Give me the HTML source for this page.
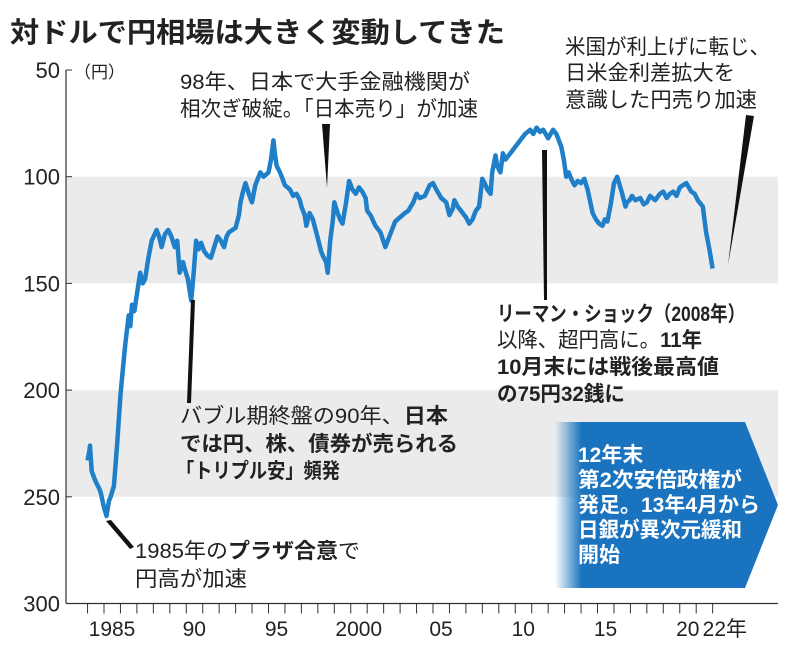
<!DOCTYPE html>
<html><head><meta charset="utf-8"><style>
html,body{margin:0;padding:0;background:#fff;}
svg{display:block;font-family:"Liberation Sans","Noto Sans CJK JP",sans-serif;}
.a{font-size:21px;fill:#222;}
.b{font-weight:bold;}
</style></head><body>
<svg id="chart" width="800" height="660" viewBox="0 0 800 660">
<defs><linearGradient id="g" x1="0" x2="1" y1="0" y2="0"><stop offset="0" stop-color="#1a73be" stop-opacity="0"/><stop offset="0.12" stop-color="#1a73be"/><stop offset="1" stop-color="#1a73be"/></linearGradient></defs>
<text x="10" y="42" font-size="28" font-weight="bold" fill="#222" textLength="495" lengthAdjust="spacingAndGlyphs">対ドルで円相場は大きく変動してきた</text>
<g id="bands"></g>
<g id="axes"></g>
<path id="line" fill="none" stroke="#1f7fc8" stroke-width="4.5" stroke-linejoin="round"/>
<g>
<text class="a" x="180" y="89" textLength="290" lengthAdjust="spacingAndGlyphs">98年、日本で大手金融機関が</text>
<text class="a" x="180" y="116" textLength="298" lengthAdjust="spacingAndGlyphs">相次ぎ破綻。「日本売り」が加速</text>
<polygon points="322,124 330,124 327,188" fill="#111"/></g>
<g>
<text class="a" x="565" y="54" textLength="205" lengthAdjust="spacingAndGlyphs">米国が利上げに転じ、</text>
<text class="a" x="565" y="80" textLength="170" lengthAdjust="spacingAndGlyphs">日米金利差拡大を</text>
<text class="a" x="565" y="107" textLength="192" lengthAdjust="spacingAndGlyphs">意識した円売り加速</text>
<polygon points="746,115 754,116 728,265" fill="#111"/></g>
<g>
<text class="a b" x="497" y="321" textLength="248" lengthAdjust="spacingAndGlyphs">リーマン・ショック（2008年）</text>
<text class="a" x="497" y="347" textLength="205" lengthAdjust="spacingAndGlyphs">以降、超円高に。<tspan class="b">11年</tspan></text>
<text class="a b" x="497" y="374" textLength="222" lengthAdjust="spacingAndGlyphs">10月末には戦後最高値</text>
<text class="a b" x="497" y="401" textLength="128" lengthAdjust="spacingAndGlyphs">の75円32銭に</text>
<polygon points="542,150 547,150 547,300 544,300" fill="#111"/></g>
<g>
<text class="a" x="180" y="423" textLength="268" lengthAdjust="spacingAndGlyphs">バブル期終盤の90年、<tspan class="b">日本</tspan></text>
<text class="a b" x="180" y="451" textLength="278" lengthAdjust="spacingAndGlyphs">では円、株、債券が売られる</text>
<text class="a b" x="176" y="478" textLength="164" lengthAdjust="spacingAndGlyphs">「トリプル安」頻発</text>
<polygon points="191,300 195,300 191,403 187,403" fill="#111"/></g>
<g>
<text class="a" x="135" y="558" textLength="225" lengthAdjust="spacingAndGlyphs">1985年の<tspan class="b">プラザ合意</tspan>で</text>
<text class="a" x="135" y="586" textLength="112" lengthAdjust="spacingAndGlyphs">円高が加速</text>
<polygon points="106,521 111,520 134,547 130,549" fill="#111"/></g>
<g>
<polygon points="555,422 745,422 778,505 745,588 555,588" fill="url(#g)"/>
<g fill="#fff" font-size="21" font-weight="bold">
<text x="578" y="462">12年末</text>
<text x="578" y="487" textLength="164" lengthAdjust="spacingAndGlyphs">第2次安倍政権が</text>
<text x="578" y="512" textLength="182" lengthAdjust="spacingAndGlyphs">発足。13年4月から</text>
<text x="578" y="537" textLength="164" lengthAdjust="spacingAndGlyphs">日銀が異次元緩和</text>
<text x="578" y="562">開始</text></g></g>
</svg>
<script>
const years=[1984.0,1984.1,1984.15,1984.25,1984.4,1984.5,1984.7,1984.8,1985.0,1985.15,1985.3,1985.4,1985.6,1985.8,1986.0,1986.15,1986.3,1986.5,1986.6,1986.7,1986.85,1987.0,1987.2,1987.35,1987.5,1987.7,1987.9,1988.2,1988.35,1988.5,1988.7,1988.9,1989.1,1989.3,1989.45,1989.6,1989.8,1989.9,1990.1,1990.3,1990.45,1990.6,1990.75,1990.9,1991.1,1991.3,1991.5,1991.7,1991.9,1992.1,1992.3,1992.45,1992.6,1992.8,1993.0,1993.2,1993.3,1993.45,1993.6,1993.8,1994.0,1994.2,1994.5,1994.7,1995.0,1995.15,1995.25,1995.3,1995.4,1995.5,1995.7,1995.8,1996.0,1996.3,1996.5,1996.7,1996.9,1997.0,1997.2,1997.3,1997.5,1997.7,1997.9,1998.0,1998.2,1998.3,1998.5,1998.6,1998.75,1998.9,1999.0,1999.2,1999.35,1999.5,1999.7,1999.9,2000.1,2000.3,2000.5,2000.7,2000.9,2001.0,2001.2,2001.5,2001.8,2002.1,2002.3,2002.5,2002.7,2003.0,2003.3,2003.5,2003.8,2004.0,2004.2,2004.5,2004.8,2005.0,2005.2,2005.5,2005.8,2006.0,2006.2,2006.3,2006.5,2006.7,2006.9,2007.0,2007.2,2007.4,2007.6,2007.8,2008.0,2008.2,2008.3,2008.5,2008.6,2008.8,2008.9,2009.1,2009.25,2009.4,2009.6,2009.8,2010.0,2010.2,2010.4,2010.6,2010.9,2011.1,2011.3,2011.5,2011.7,2011.85,2012.0,2012.15,2012.3,2012.5,2012.8,2012.95,2013.1,2013.25,2013.4,2013.6,2013.8,2014.0,2014.2,2014.4,2014.7,2014.9,2015.1,2015.3,2015.45,2015.6,2015.8,2016.0,2016.2,2016.5,2016.7,2016.8,2016.95,2017.1,2017.3,2017.6,2017.8,2018.0,2018.2,2018.5,2018.8,2019.0,2019.2,2019.4,2019.6,2019.8,2020.0,2020.2,2020.4,2020.7,2020.9,2021.1,2021.3,2021.4,2021.6,2021.8,2022.0,2022.15,2022.3,2022.45,2022.6];
const values=[233,229,226,238,241,243,246,248,255,259,252,250,245,225,202,190,178,165,170,160,163,155,145,150,148,138,130,125,128,133,127,125,128,133,130,145,140,143,148,158,145,130,134,131,135,137,138,133,128,130,133,128,126,125,124,118,112,107,103,108,112,104,98,100,98,92,86,83,90,95,98,100,104,106,109,108,111,114,118,123,117,120,126,129,135,137,140,145,130,121,112,117,120,122,113,102,106,108,105,107,110,116,118,123,126,133,129,125,121,119,117,116,112,108,110,109,104,103,106,110,112,118,115,111,114,116,118,119,122,120,116,114,101,104,106,108,98,90,95,98,89,92,90,88,86,84,82,80,78,80,77,79,78,80,82,80,78,80,86,92,100,98,101,104,102,103,101,106,117,120,122,123,120,121,113,103,100,108,114,112,111,109,111,110,113,112,109,111,108,107,110,108,107,109,105,104,103,107,108,111,113,114,126,134,143];
const yTicks=[50,100,150,200,250,300];
const xTickYears=[1984,1985,1986,1987,1988,1989,1990,1991,1992,1993,1994,1995,1996,1997,1998,1999,2000,2001,2002,2003,2004,2005,2006,2007,2008,2009,2010,2011,2012,2013,2014,2015,2016,2017,2018,2019,2020,2021,2022];
const xLabels=["1985","90","95","2000","05","10","15","20"];
const xLabelYears=[1985,1990,1995,2000,2005,2010,2015,2020];
const X=t=>104+(t-1985)*16.45;
const Y=v=>70+(v-50)*2.134;
const NS="http://www.w3.org/2000/svg";
const bands=document.getElementById('bands'),axes=document.getElementById('axes');
function mk(tag,attrs,parent){const e=document.createElementNS(NS,tag);for(const k in attrs)e.setAttribute(k,attrs[k]);parent.appendChild(e);return e;}
[[100,150],[200,250]].forEach(b=>{const r=mk('rect',{x:66,y:Y(b[0]),width:712,height:Y(b[1])-Y(b[0]),fill:'#ebebeb'},bands);

});
mk('line',{x1:66,y1:Y(50),x2:66,y2:Y(300),stroke:'#333','stroke-width':1.2},axes);
mk('line',{x1:66,y1:Y(300),x2:778,y2:Y(300),stroke:'#333','stroke-width':1.2},axes);
yTicks.forEach(v=>{mk('line',{x1:66,y1:Y(v),x2:72,y2:Y(v),stroke:'#333'},axes);
const t=mk('text',{x:60,y:Y(v)+8,'text-anchor':'end','font-size':22,fill:'#222'},axes);t.textContent=v;

});
const u=mk('text',{x:74,y:78,'font-size':17,fill:'#222'},axes);u.textContent='（円）';


xTickYears.forEach(y=>mk('line',{x1:X(y),y1:Y(300),x2:X(y),y2:Y(300)+10,stroke:'#333'},axes));
xLabels.forEach((l,i)=>{const t=mk('text',{x:X(xLabelYears[i])+8,y:636,'text-anchor':'middle','font-size':21,fill:'#222'},axes);t.textContent=l;

});
const last=mk('text',{x:X(2022)-10,y:636,'font-size':21,fill:'#222'},axes);last.textContent='22年';


document.getElementById('line').setAttribute('d',years.map((t,i)=>(i?'L':'M')+X(t).toFixed(1)+','+Y(values[i]).toFixed(1)).join(''));
</script>
</body></html>
